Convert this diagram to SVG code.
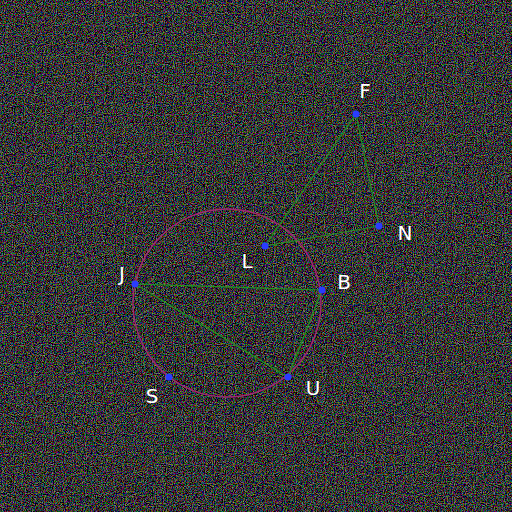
<svg xmlns="http://www.w3.org/2000/svg" width="512" height="512" viewBox="0 0 512 512">
  <defs>
    <filter id="noise" x="0" y="0" width="100%" height="100%" filterUnits="userSpaceOnUse">
      <feTurbulence type="fractalNoise" baseFrequency="0.9" numOctaves="2" seed="3" stitchTiles="noStitch" result="t"/>
      <feComponentTransfer>
        <feFuncR type="linear" slope="2.8" intercept="-1.3"/>
        <feFuncG type="linear" slope="2.8" intercept="-1.3"/>
        <feFuncB type="linear" slope="2.8" intercept="-1.3"/>
        <feFuncA type="linear" slope="0" intercept="1"/>
      </feComponentTransfer>
    </filter>
  </defs>
  <style>
    .edge { stroke: #249424; stroke-width: 1.2; fill: none; }
    .ring { stroke: #a02a72; stroke-width: 1.4; fill: none; }
    .node { fill: #2a3cff; }
    .lbl { fill: #ffffff; font-family: "DejaVu Sans", sans-serif; font-size: 20px; text-anchor: middle; }
  </style>
  <rect width="512" height="512" fill="#080808"/>
  <rect width="512" height="512" filter="url(#noise)" opacity="0.6"/>
  <circle class="ring" cx="227" cy="303" r="94"/>
  <g id="connectors">
    <line class="edge" x1="356" y1="114" x2="379" y2="226"/>
    <line class="edge" x1="356" y1="114" x2="265" y2="246"/>
    <line class="edge" x1="265" y1="246" x2="379" y2="226"/>
    <line class="edge" x1="135" y1="284" x2="322" y2="290"/>
    <line class="edge" x1="135" y1="284" x2="288" y2="377"/>
    <line class="edge" x1="322" y1="290" x2="288" y2="377"/>
  </g>
  <g id="F"><circle class="node" cx="356" cy="114" r="3.5"/><text class="lbl" x="365" y="98">F</text></g>
  <g id="N"><circle class="node" cx="379" cy="226" r="3.5"/><text class="lbl" x="405" y="240">N</text></g>
  <g id="L"><circle class="node" cx="265" cy="246" r="3.5"/><text class="lbl" x="247" y="268">L</text></g>
  <g id="J"><circle class="node" cx="135" cy="284" r="3.5"/><text class="lbl" x="122" y="281">J</text></g>
  <g id="B"><circle class="node" cx="322" cy="290" r="3.5"/><text class="lbl" x="344" y="289">B</text></g>
  <g id="U"><circle class="node" cx="288" cy="377" r="3.5"/><text class="lbl" x="313" y="395">U</text></g>
  <g id="S"><circle class="node" cx="169" cy="377" r="3.5"/><text class="lbl" x="152" y="403">S</text></g>
</svg>
